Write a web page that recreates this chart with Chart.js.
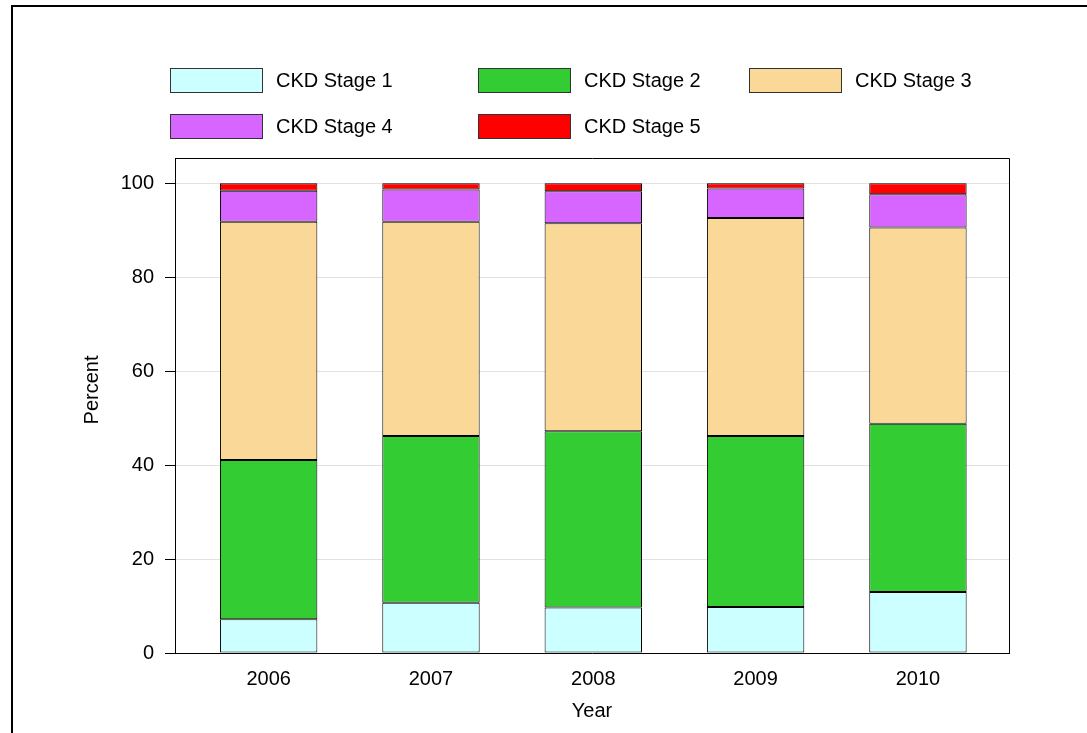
<!DOCTYPE html>
<html>
<head>
<meta charset="utf-8">
<script src="https://cdn.jsdelivr.net/npm/chart.js@4.4.0/dist/chart.umd.min.js"></script>
<style>
  body { margin: 0; background: #fff; }
  #wrap { width: 1087px; height: 733px; position: relative; }
</style>
</head>
<body>
<div id="wrap"><canvas id="myChart" width="1087" height="733"></canvas></div>
<script>
// CKD stage share (percent) per year
const years = [2006, 2007, 2008, 2009, 2010];
const stageNames = ['CKD Stage 1', 'CKD Stage 2', 'CKD Stage 3', 'CKD Stage 4', 'CKD Stage 5'];
const stage1 = [7.2, 10.7, 9.7, 9.8, 13.0];
const stage2 = [33.9, 35.5, 37.5, 36.4, 35.8];
const stage3 = [50.7, 45.6, 44.3, 46.4, 41.8];
const stage4 = [6.6, 6.9, 6.8, 6.3, 7.1];
const stage5 = [1.6, 1.3, 1.7, 1.1, 2.3];
const yTicks = [0, 20, 40, 60, 80, 100];

const colors = ['#CCFFFF', '#33CC33', '#FAD898', '#D666FF', '#FF0000'];
const FONT = 'Liberation Sans, Arial, sans-serif';

// legend slots: [box x, box y]
const legendSlots = [[170, 68], [478, 68], [749, 68], [170, 114], [478, 114]];

const framePlugin = {
    id: 'frame',
    afterDraw(chart) {
        const c = chart.ctx;
        const a = chart.chartArea;
        c.save();
        // outer picture border (top + left)
        c.strokeStyle = '#000';
        c.lineWidth = 2;
        c.beginPath();
        c.moveTo(1087, 6);
        c.lineTo(12, 6);
        c.lineTo(12, 733);
        c.stroke();
        // plot box top + right
        c.lineWidth = 1;
        c.beginPath();
        c.moveTo(Math.round(a.left) + 0.5, Math.round(a.top) + 0.5);
        c.lineTo(Math.round(a.right) + 0.5, Math.round(a.top) + 0.5);
        c.lineTo(Math.round(a.right) + 0.5, Math.round(a.bottom) + 0.5);
        c.stroke();
        // legend
        c.font = '20px ' + FONT;
        c.textBaseline = 'middle';
        c.fillStyle = '#000';
        chart.data.datasets.forEach(function(ds, i) {
            const s = legendSlots[i];
            c.fillStyle = ds.backgroundColor;
            c.fillRect(s[0], s[1], 92, 24);
            c.strokeStyle = '#333';
            c.strokeRect(s[0] + 0.5, s[1] + 0.5, 92, 24);
            c.fillStyle = '#000';
            c.fillText(ds.label, s[0] + 106, s[1] + 13);
        });
        // y axis title
        c.translate(92, 390);
        c.rotate(-Math.PI / 2);
        c.textAlign = 'center';
        c.fillText('Percent', 0, 0);
        c.restore();
    }
};

const stages = [stage1, stage2, stage3, stage4, stage5];
const datasets = stages.map(function(vals, i) {
    return {
        label: stageNames[i],
        data: vals,
        backgroundColor: colors[i],
        borderColor: '#000',
        borderWidth: 1,
        borderSkipped: false
    };
});

const ctx = document.getElementById('myChart').getContext('2d');
const myChart = new Chart(ctx, {
    type: 'bar',
    data: {
        labels: years,
        datasets: datasets
    },
    plugins: [framePlugin],
    options: {
        responsive: false,
        animation: false,
        devicePixelRatio: 1,
        layout: { padding: { left: 80, top: 158, right: 78, bottom: 0 } },
        datasets: { bar: { categoryPercentage: 1, barPercentage: 0.6 } },
        plugins: { legend: { display: false }, tooltip: { enabled: false } },
        scales: {
            x: {
                type: 'linear',
                stacked: true,
                offset: false,
                min: 2005.423,
                max: 2010.561,
                grid: { display: false, drawTicks: false, offset: false },
                border: { color: '#000', width: 1 },
                ticks: {
                    stepSize: 1,
                    includeBounds: false,
                    padding: 14,
                    color: '#000',
                    font: { size: 20, family: FONT },
                    callback: function(v) { return years.indexOf(v) >= 0 ? String(v) : ''; }
                },
                title: {
                    display: true,
                    text: 'Year',
                    color: '#000',
                    font: { size: 20, family: FONT },
                    padding: { top: 8, bottom: 10 }
                },
                afterFit: function(scale) { scale.height = 80; }
            },
            y: {
                stacked: true,
                min: 0,
                max: 105.4,
                grid: { color: '#e2e2e2', tickColor: '#000', tickLength: 10 },
                border: { color: '#000', width: 1 },
                afterBuildTicks: function(scale) {
                    scale.ticks = yTicks.map(function(v) { return { value: v }; });
                },
                ticks: {
                    padding: 11,
                    color: '#000',
                    font: { size: 20, family: FONT }
                },
                afterFit: function(scale) { scale.width = 95; }
            }
        }
    }
});
</script>
</body>
</html>
